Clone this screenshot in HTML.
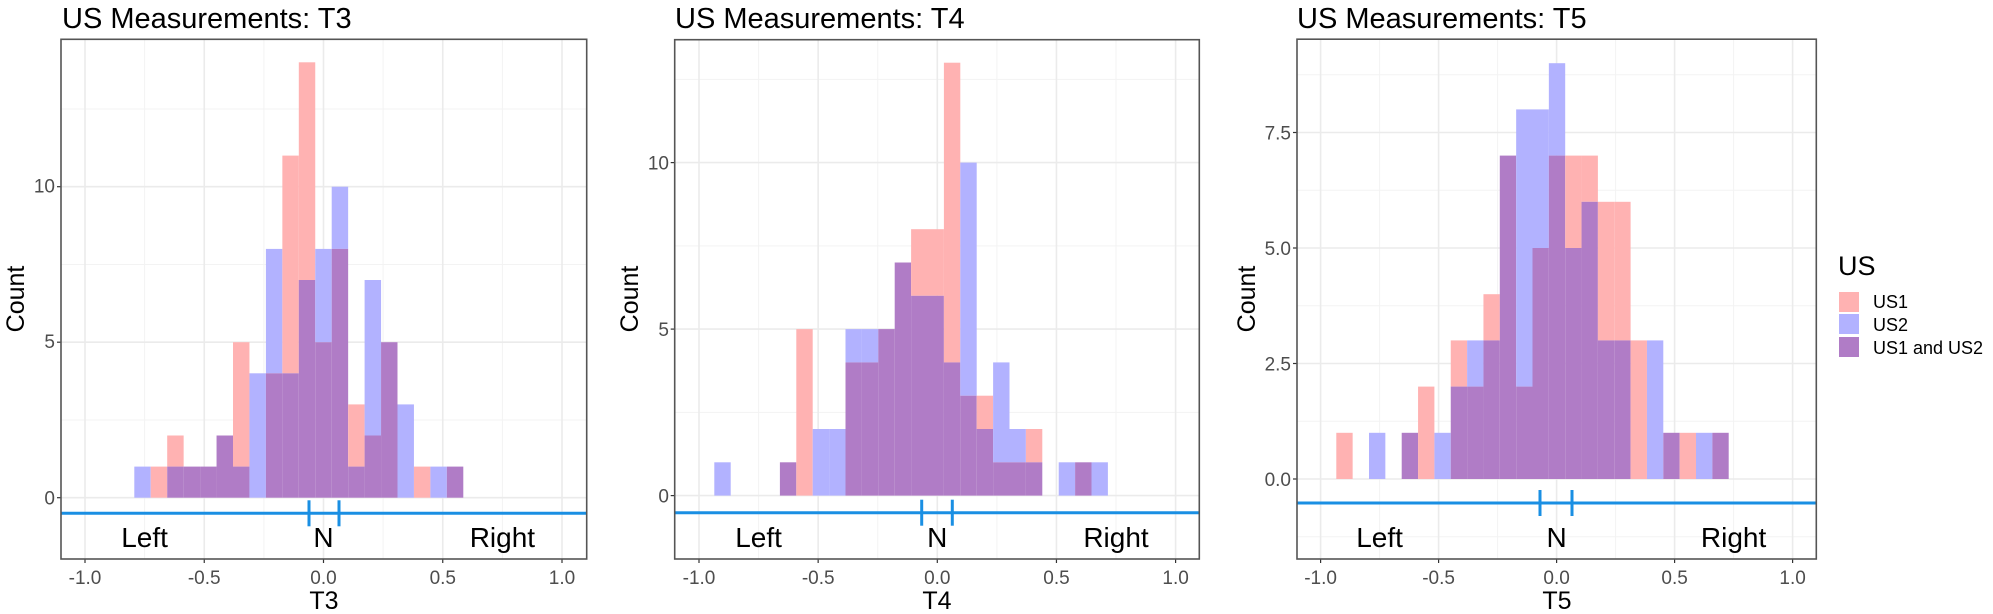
<!DOCTYPE html>
<html><head><meta charset="utf-8"><style>
html,body{margin:0;padding:0;background:#fff;}
svg{display:block;font-family:"Liberation Sans",Arial,sans-serif;}
.tl{font-size:19px;fill:#4d4d4d;}
.tt{font-size:29px;fill:#000;}
.ax{font-size:25px;fill:#000;}
.lb{font-size:28px;fill:#000;}
</style></head><body>
<svg id="s" width="1993" height="614" viewBox="0 0 1993 614" xmlns="http://www.w3.org/2000/svg">
<g id="g"></g>
<text class="tt" x="62" y="28">US Measurements: T3</text>
<text class="tt" x="675" y="28">US Measurements: T4</text>
<text class="tt" x="1297" y="28">US Measurements: T5</text>
<text class="ax" text-anchor="middle" transform="translate(24,299) rotate(-90)">Count</text>
<text class="ax" text-anchor="middle" transform="translate(638,299) rotate(-90)">Count</text>
<text class="ax" text-anchor="middle" transform="translate(1255,299) rotate(-90)">Count</text>
<text class="ax" text-anchor="middle" x="324" y="609">T3</text>
<text class="ax" text-anchor="middle" x="937" y="609">T4</text>
<text class="ax" text-anchor="middle" x="1557" y="609">T5</text>
<g class="tl" text-anchor="middle">
<text x="85" y="584">-1.0</text><text x="204.2" y="584">-0.5</text><text x="323.5" y="584">0.0</text><text x="442.8" y="584">0.5</text><text x="562" y="584">1.0</text>
<text x="699" y="584">-1.0</text><text x="818.2" y="584">-0.5</text><text x="937.3" y="584">0.0</text><text x="1056.5" y="584">0.5</text><text x="1175.6" y="584">1.0</text>
<text x="1320.6" y="584">-1.0</text><text x="1438.6" y="584">-0.5</text><text x="1556.6" y="584">0.0</text><text x="1674.6" y="584">0.5</text><text x="1792.6" y="584">1.0</text>
</g>
<g class="tl" text-anchor="end">
<text x="55" y="504.5">0</text><text x="55" y="348.2">5</text><text x="55" y="192.7">10</text>
<text x="669" y="502.5">0</text><text x="669" y="336">5</text><text x="669" y="169.5">10</text>
<text x="1291" y="485.8">0.0</text><text x="1291" y="370.3">2.5</text><text x="1291" y="254.8">5.0</text><text x="1291" y="139.3">7.5</text>
</g>
<g class="lb" text-anchor="middle">
<text x="144.6" y="547">Left</text><text x="323.5" y="547">N</text><text x="502.4" y="547">Right</text>
<text x="758.6" y="547">Left</text><text x="937.3" y="547">N</text><text x="1116" y="547">Right</text>
<text x="1379.6" y="547">Left</text><text x="1556.6" y="547">N</text><text x="1733.6" y="547">Right</text>
</g>
<text x="1838" y="275" style="font-size:27px">US</text>
<rect x="1839" y="292" width="20" height="20" fill="#ffb2b2"/>
<rect x="1839" y="314" width="20" height="20" fill="#b2b2ff"/>
<rect x="1839" y="337" width="20" height="20" fill="#b07cc6"/>
<g style="font-size:18px">
<text x="1873" y="308">US1</text>
<text x="1873" y="331">US2</text>
<text x="1873" y="354">US1 and US2</text>
</g>
</svg>
<script>
(function(){
var NS="http://www.w3.org/2000/svg",g=document.getElementById("g");
function el(t,a){var e=document.createElementNS(NS,t);for(var k in a)e.setAttribute(k,a[k]);g.appendChild(e);return e;}
var P=[
{L:61,R:586.7,T:39.3,B:559,x0:323.5,sx:238.5,y0:497.7,sy:31.1,e0:134.3,bw:16.45,
 pink:[0,1,2,1,1,2,5,0,4,11,14,5,8,3,2,5,0,1,0,1],
 blue:[1,0,1,1,1,2,1,4,8,4,7,8,10,1,7,5,3,0,1,1],
 yM:[0,5,10],ym:[2.5,7.5,12.5],bl:513.3,N:[309,339]},
{L:674.7,R:1199.3,T:39.7,B:559,x0:937.3,sx:238.3,y0:495.6,sy:33.3,e0:714.3,bw:16.4,
 pink:[0,0,0,0,1,5,0,0,4,4,5,7,8,8,13,3,3,1,1,2,0,0,1,0],
 blue:[1,0,0,0,1,0,2,2,5,5,5,7,6,6,4,10,2,4,2,1,0,1,1,1],
 yM:[0,5,10],ym:[2.5,7.5,12.5],bl:512.7,N:[921.7,952.3]},
{L:1297,R:1816.3,T:39.2,B:559,x0:1556.6,sx:236,y0:479,sy:46.2,e0:1336.3,bw:16.35,
 pink:[1,0,0,0,1,2,0,3,2,4,7,2,5,7,7,7,6,6,3,0,1,1,0,1],
 blue:[0,0,1,0,1,0,1,2,3,3,7,8,8,9,5,6,3,3,0,3,1,0,1,1],
 yM:[0,2.5,5,7.5],ym:[-1.25,1.25,3.75,6.25,8.75],bl:503,N:[1540,1572]}
];
P.forEach(function(p){
 [-0.75,-0.25,0.25,0.75].forEach(function(v){var x=p.x0+v*p.sx;el("line",{x1:x,x2:x,y1:p.T,y2:p.B,stroke:"#f3f3f3","stroke-width":1});});
 p.ym.forEach(function(v){var y=p.y0-v*p.sy;el("line",{x1:p.L,x2:p.R,y1:y,y2:y,stroke:"#f3f3f3","stroke-width":1});});
 [-1,-0.5,0,0.5,1].forEach(function(v){var x=p.x0+v*p.sx;el("line",{x1:x,x2:x,y1:p.T,y2:p.B,stroke:"#ebebeb","stroke-width":1.6});
   el("line",{x1:x,x2:x,y1:p.B,y2:p.B+4,stroke:"#333","stroke-width":1.2});});
 p.yM.forEach(function(v){var y=p.y0-v*p.sy;el("line",{x1:p.L,x2:p.R,y1:y,y2:y,stroke:"#ebebeb","stroke-width":1.6});
   el("line",{x1:p.L-4,x2:p.L,y1:y,y2:y,stroke:"#333","stroke-width":1.2});});
 for(var i=0;i<p.pink.length;i++){
  var x=p.e0+i*p.bw,a=p.pink[i],b=p.blue[i],m=Math.min(a,b);
  if(a>m) el("rect",{x:x,y:p.y0-a*p.sy,width:p.bw,height:(a-m)*p.sy,fill:"#ffb2b2"});
  if(b>m) el("rect",{x:x,y:p.y0-b*p.sy,width:p.bw,height:(b-m)*p.sy,fill:"#b2b2ff"});
  if(m>0) el("rect",{x:x,y:p.y0-m*p.sy,width:p.bw,height:m*p.sy,fill:"#b07cc6"});
 }
 el("line",{x1:p.L,x2:p.R,y1:p.bl,y2:p.bl,stroke:"#1a8fe3","stroke-width":3});
 p.N.forEach(function(x){el("line",{x1:x,x2:x,y1:p.bl-13,y2:p.bl+13,stroke:"#1a8fe3","stroke-width":3});});
 el("rect",{x:p.L,y:p.T,width:p.R-p.L,height:p.B-p.T,fill:"none",stroke:"#555","stroke-width":1.6});
});
})();
</script>
</body></html>
